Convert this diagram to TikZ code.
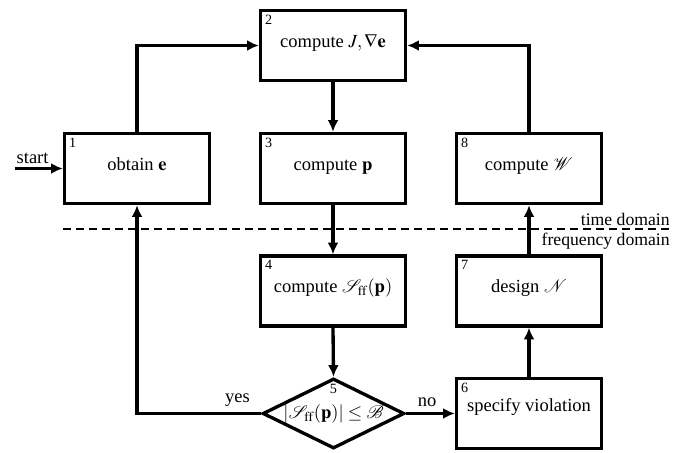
\documentclass[tikz,border=0pt]{standalone}
\usepackage{amsmath,amssymb}
\usepackage{mathptmx}
\usepackage{mathrsfs}
\usepackage[no-math]{fontspec}
\setmainfont{Liberation Serif}
\usepackage{tikz}
\usetikzlibrary{shapes.geometric,arrows.meta}

\tikzset{
  stepbox/.style={draw, line width=2pt, minimum width=87pt, minimum height=42pt, inner sep=1pt,
    text height=8pt, text depth=6pt},
  decision/.style={draw, diamond, aspect=2.03, line width=2pt, minimum width=85pt, minimum height=42pt, inner sep=0pt},
  num/.style={font=\fontsize{8.5}{9}\selectfont, inner sep=3.5pt},
  flow/.style={line width=2pt, -{Latex[length=7pt,width=6.5pt]}}
}

\begin{document}
\begin{tikzpicture}[x=0.6pt, y=-0.6pt, every node/.style={font=\fontsize{11.1}{13}\selectfont}]
  \useasboundingbox (0,0) rectangle (697,452);
  % steps
  \node[stepbox, label={[num, anchor=north west]north west:1}] (b1) at (137,168.5) {obtain $\mathbf{e}$};
  \node[stepbox, label={[num, anchor=north west]north west:2}] (b2) at (333,45.5) {compute $J,\nabla\mathbf{e}$};
  \node[stepbox, label={[num, anchor=north west]north west:3}] (b3) at (333,168.5) {compute $\mathbf{p}$};
  \node[stepbox, label={[num, anchor=north west]north west:8}] (b8) at (529,168.5) {compute $\mathscr{W}$};
  \node[stepbox, label={[num, anchor=north west]north west:4}] (b4) at (333,291) {compute $\mathscr{S}_{\mathrm{ff}}(\mathbf{p})$};
  \node[stepbox, label={[num, anchor=north west]north west:7}] (b7) at (529,291) {design $\mathscr{N}$};
  \node[decision, label={[num, anchor=north, inner sep=4.5pt]north:5}] (d5) at (333.5,413.5)
    {$|\mathscr{S}_{\mathrm{ff}}(\mathbf{p})|\leq\mathscr{B}$};
  \node[stepbox, text depth=10pt, label={[num, anchor=north west]north west:6}] (b6) at (529,413.5) {specify violation};

  % domain separator
  \coordinate (dl) at (63,229);
  \coordinate (dr) at (670,229);
  \draw[line width=1.5pt, dash pattern=on 4.8pt off 3pt] (dl) -- (dr);
  \node[anchor=south east, inner xsep=0pt, inner ysep=2pt, font=\fontsize{10.6}{12}\selectfont] (td) at (dr) {time domain};
  \node[anchor=north east, inner xsep=0pt, inner ysep=2pt, font=\fontsize{10.6}{12}\selectfont] (fd) at (dr) {frequency domain};

  % connectors
  \coordinate (start) at (15,168.5);
  \draw[flow] (start) node[above right, inner xsep=0pt, inner ysep=2pt] {start} -- (b1.west);
  \draw[flow] (b1.north) |- (b2.west);
  \draw[flow] (b8.north) |- (b2.east);
  \draw[flow] (b2.south) -- (b3.north);
  \draw[flow] (b3.south) -- (b4.north);
  \draw[flow] (b4.south) -- (d5.north);
  \draw[flow] (d5.west) -- node[above, pos=0.19] {yes} (d5.west -| b1.south) -- (b1.south);
  \draw[flow] (d5.east) -- node[above, pos=0.43] {no} (b6.west);
  \draw[flow] (b6.north) -- (b7.south);
  \draw[flow] (b7.north) -- (b8.south);
\end{tikzpicture}
\end{document}
